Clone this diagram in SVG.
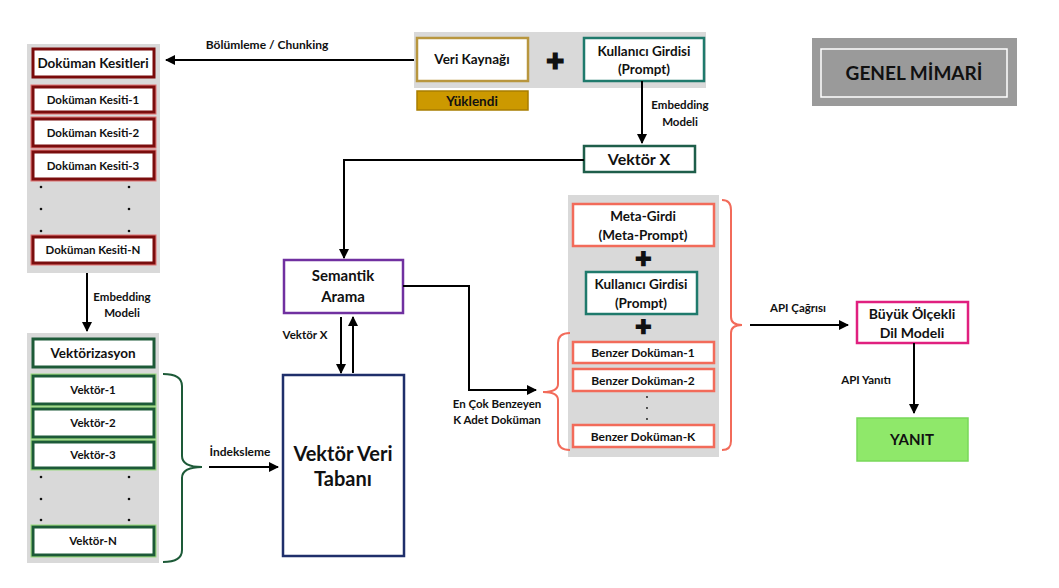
<svg xmlns="http://www.w3.org/2000/svg" width="1059" height="588" viewBox="0 0 1059 588">
<defs>
<style>
text{font-family:Lato,"Liberation Sans",sans-serif;font-weight:bold;fill:#111;text-anchor:middle}
.panel{fill:#d9d9d9}
.box{fill:#fff}
.red{stroke:#7a0a0a;stroke-width:3}
.redg{filter:url(#glowR)}
.grn{stroke:#1d5a38;stroke-width:3}
.grng{filter:url(#glowG)}
.coral{stroke:#f26b5a;stroke-width:2.5;fill:#fff}
.teal{stroke:#1f7a6c;stroke-width:2.5;fill:#fff}
.ln{fill:none;stroke:#000;stroke-width:2}
.br{fill:none;stroke-width:2}
.s11{font-size:11.5px}
.s12{font-size:12px}
.s13{font-size:13.5px}
.s15{font-size:15px}
.dot{fill:#111}
</style>
<marker id="ah" viewBox="0 0 10 10" refX="9" refY="5" markerWidth="5" markerHeight="5" orient="auto-start-reverse">
<path d="M0,0 L10,5 L0,10 z" fill="#000"/>
</marker>
<filter id="glowR" x="-10%" y="-30%" width="120%" height="160%">
<feMorphology in="SourceAlpha" operator="dilate" radius="1" result="d"/>
<feGaussianBlur in="d" stdDeviation="0.7" result="b"/>
<feFlood flood-color="#e03030" flood-opacity="0.6"/>
<feComposite in2="b" operator="in" result="g"/>
<feMerge><feMergeNode in="g"/><feMergeNode in="SourceGraphic"/></feMerge>
</filter>
<filter id="glowG" x="-10%" y="-30%" width="120%" height="160%">
<feMorphology in="SourceAlpha" operator="dilate" radius="1" result="d"/>
<feGaussianBlur in="d" stdDeviation="0.7" result="b"/>
<feFlood flood-color="#7fd860" flood-opacity="0.7"/>
<feComposite in2="b" operator="in" result="g"/>
<feMerge><feMergeNode in="g"/><feMergeNode in="SourceGraphic"/></feMerge>
</filter>
</defs>
<rect width="1059" height="588" fill="#fff"/>

<!-- Title -->
<g id="title">
<rect x="812" y="38" width="205" height="68" fill="#9a9a9a"/>
<rect x="821" y="49" width="186" height="48" fill="none" stroke="#fff" stroke-width="1.5"/>
<text x="914" y="80" style="font-size:19px">GENEL MİMARİ</text>
</g>

<!-- Top input panel -->
<g id="input-panel">
<rect class="panel" x="414" y="32" width="292" height="56"/>
</g>
<g id="veri-kaynagi">
<rect x="417" y="38" width="111" height="43" fill="#fff" stroke="#b8963e" stroke-width="2.5"/>
<text class="s13" x="472" y="64">Veri Kaynağı</text>
</g>
<g id="plus-top"><text x="555" y="69" style="font-size:22px">✚</text></g>
<g id="kullanici-girdisi-top">
<rect class="teal" x="584" y="38" width="120" height="43"/>
<text class="s13" x="644" y="56">Kullanıcı Girdisi</text>
<text class="s13" x="644" y="74">(Prompt)</text>
</g>
<g id="yuklendi">
<rect x="417" y="91" width="111" height="19" fill="#cc9900" stroke="#a87d00" stroke-width="1.5"/>
<text class="s13" x="472" y="106">Yüklendi</text>
</g>
<g id="vektor-x">
<rect x="584" y="146" width="111" height="26" fill="#fff" stroke="#1e5e4a" stroke-width="2.5"/>
<text x="639" y="165" style="font-size:16px">Vektör X</text>
</g>

<!-- Left doc panel -->
<g id="dokuman-panel">
<rect class="panel" x="27" y="44" width="133" height="229"/>
</g>
<g id="dokuman-kesitleri">
<rect class="box red" x="33" y="49" width="121" height="28"/>
<text class="s13" x="93" y="68">Doküman Kesitleri</text>
</g>
<g id="kesit-1"><rect class="box red redg" x="33" y="87" width="121" height="25"/><text class="s11" x="93" y="104">Doküman Kesiti-1</text></g>
<g id="kesit-2"><rect class="box red redg" x="33" y="119" width="121" height="27"/><text class="s11" x="93" y="137">Doküman Kesiti-2</text></g>
<g id="kesit-3"><rect class="box red redg" x="33" y="152" width="121" height="27"/><text class="s11" x="93" y="170">Doküman Kesiti-3</text></g>
<g id="kesit-dots">
<circle class="dot" cx="41" cy="187" r="1.3"/><circle class="dot" cx="129" cy="187" r="1.3"/>
<circle class="dot" cx="41" cy="209" r="1.3"/><circle class="dot" cx="129" cy="209" r="1.3"/>
<circle class="dot" cx="41" cy="231" r="1.3"/><circle class="dot" cx="129" cy="231" r="1.3"/>
</g>
<g id="kesit-n"><rect class="box red redg" x="33" y="237" width="121" height="26"/><text class="s11" x="93" y="254">Doküman Kesiti-N</text></g>

<!-- Left vector panel -->
<g id="vektor-panel">
<rect class="panel" x="27" y="333" width="132" height="230"/>
</g>
<g id="vektorizasyon">
<rect class="box grn" x="33" y="339" width="121" height="28"/>
<text class="s13" x="93" y="358">Vektörizasyon</text>
</g>
<g id="vektor-1"><rect class="box grn grng" x="33" y="376" width="121" height="28"/><text class="s11" x="93" y="394">Vektör-1</text></g>
<g id="vektor-2"><rect class="box grn grng" x="33" y="409" width="121" height="28"/><text class="s11" x="93" y="427">Vektör-2</text></g>
<g id="vektor-3"><rect class="box grn grng" x="33" y="442" width="121" height="26"/><text class="s11" x="93" y="459">Vektör-3</text></g>
<g id="vektor-dots">
<circle class="dot" cx="41" cy="477" r="1.3"/><circle class="dot" cx="129" cy="477" r="1.3"/>
<circle class="dot" cx="41" cy="499" r="1.3"/><circle class="dot" cx="129" cy="499" r="1.3"/>
<circle class="dot" cx="41" cy="520" r="1.3"/><circle class="dot" cx="129" cy="520" r="1.3"/>
</g>
<g id="vektor-n"><rect class="box grn grng" x="33" y="527" width="121" height="28"/><text class="s11" x="93" y="545">Vektör-N</text></g>
<g id="vektor-brace">
<path class="br" stroke="#1d5a38" d="M163,374 Q182,374 182,386 L182,456 Q182,467 202,467 Q182,467 182,478 L182,550 Q182,562 163,562"/>
</g>

<!-- Semantic search & DB -->
<g id="semantik-arama">
<rect x="284" y="260" width="119" height="53" fill="#fff" stroke="#7030a0" stroke-width="2.5"/>
<text class="s15" x="343" y="281">Semantik</text>
<text class="s15" x="343" y="302">Arama</text>
</g>
<g id="vektor-veri-tabani">
<rect x="283" y="375" width="121" height="181" fill="#fff" stroke="#1f2f6b" stroke-width="2.5"/>
<text x="343" y="461" style="font-size:20px">Vektör Veri</text>
<text x="343" y="486" style="font-size:20px">Tabanı</text>
</g>

<!-- Prompt assembly panel -->
<g id="prompt-panel">
<rect class="panel" x="568" y="195" width="151" height="262"/>
</g>
<g id="meta-girdi">
<rect class="coral" x="573" y="204" width="141" height="42"/>
<text class="s13" x="643" y="221">Meta-Girdi</text>
<text class="s13" x="643" y="240">(Meta-Prompt)</text>
</g>
<g id="plus-1"><text x="643" y="266" style="font-size:20px">✚</text></g>
<g id="kullanici-girdisi">
<rect class="teal" x="586" y="272" width="111" height="42"/>
<text class="s13" x="641" y="289">Kullanıcı Girdisi</text>
<text class="s13" x="641" y="308">(Prompt)</text>
</g>
<g id="plus-2"><text x="643" y="334" style="font-size:20px">✚</text></g>
<g id="benzer-1"><rect class="coral" x="573" y="342" width="141" height="21"/><text class="s12" x="643" y="357">Benzer Doküman-1</text></g>
<g id="benzer-2"><rect class="coral" x="573" y="369" width="141" height="22"/><text class="s12" x="643" y="385">Benzer Doküman-2</text></g>
<g id="benzer-dots">
<circle class="dot" cx="647" cy="397" r="0.9"/><circle class="dot" cx="647" cy="408" r="0.9"/><circle class="dot" cx="647" cy="419" r="0.9"/>
</g>
<g id="benzer-k"><rect class="coral" x="573" y="425" width="141" height="22"/><text class="s12" x="643" y="441">Benzer Doküman-K</text></g>
<g id="braces-prompt">
<path class="br" stroke="#f26b5a" d="M722,200 Q731,200 731,210 L731,317 Q731,325 742,325 Q731,325 731,333 L731,441 Q731,450 722,450"/>
<path class="br" stroke="#f26b5a" d="M570,333 Q558,333 558,343 L558,384 Q558,392 543,392 Q558,392 558,400 L558,440 Q558,450 570,450"/>
</g>

<!-- LLM & answer -->
<g id="llm">
<rect x="857" y="302" width="111" height="41" fill="#fff" stroke="#e0207f" stroke-width="2.5"/>
<text x="912" y="319" style="font-size:14px">Büyük Ölçekli</text>
<text x="912" y="338" style="font-size:14px">Dil Modeli</text>
</g>
<g id="yanit">
<rect x="857" y="418" width="111" height="43" fill="#8fe86a" stroke="#78d85a" stroke-width="1.5"/>
<text x="912" y="445" style="font-size:15px">YANIT</text>
</g>

<!-- Connectors -->
<g id="connectors">
<line class="ln" x1="414" y1="60" x2="166" y2="60" marker-end="url(#ah)"/>
<line class="ln" x1="642" y1="81" x2="642" y2="143" marker-end="url(#ah)"/>
<polyline class="ln" points="584,160 344,160 344,258" stroke-width="1.5" marker-end="url(#ah)"/>
<line class="ln" x1="87" y1="273" x2="87" y2="331" marker-end="url(#ah)"/>
<line class="ln" x1="209" y1="467" x2="278" y2="467" marker-end="url(#ah)"/>
<line class="ln" x1="341" y1="317" x2="341" y2="373" stroke-width="1.5" marker-end="url(#ah)"/>
<line class="ln" x1="353" y1="373" x2="353" y2="317" stroke-width="1.5" marker-end="url(#ah)"/>
<polyline class="ln" points="403,286 469,286 469,390 536,390" stroke-width="1.5" marker-end="url(#ah)"/>
<line class="ln" x1="750" y1="325" x2="848" y2="325" marker-end="url(#ah)"/>
<line class="ln" x1="914" y1="343" x2="914" y2="413" stroke-width="1.5" marker-end="url(#ah)"/>
</g>

<!-- Connector labels -->
<g id="labels">
<text class="s12" x="267" y="49">Bölümleme / Chunking</text>
<text class="s11" x="680" y="109">Embedding</text>
<text class="s11" x="680" y="126">Modeli</text>
<text class="s11" x="122" y="301">Embedding</text>
<text class="s11" x="122" y="317">Modeli</text>
<text class="s12" x="240" y="456">İndeksleme</text>
<text class="s11" x="305" y="339">Vektör X</text>
<text class="s11" x="497" y="408">En Çok Benzeyen</text>
<text class="s11" x="497" y="424">K Adet Doküman</text>
<text class="s11" x="798" y="312">API Çağrısı</text>
<text class="s11" x="866" y="384">API Yanıtı</text>
</g>
</svg>
